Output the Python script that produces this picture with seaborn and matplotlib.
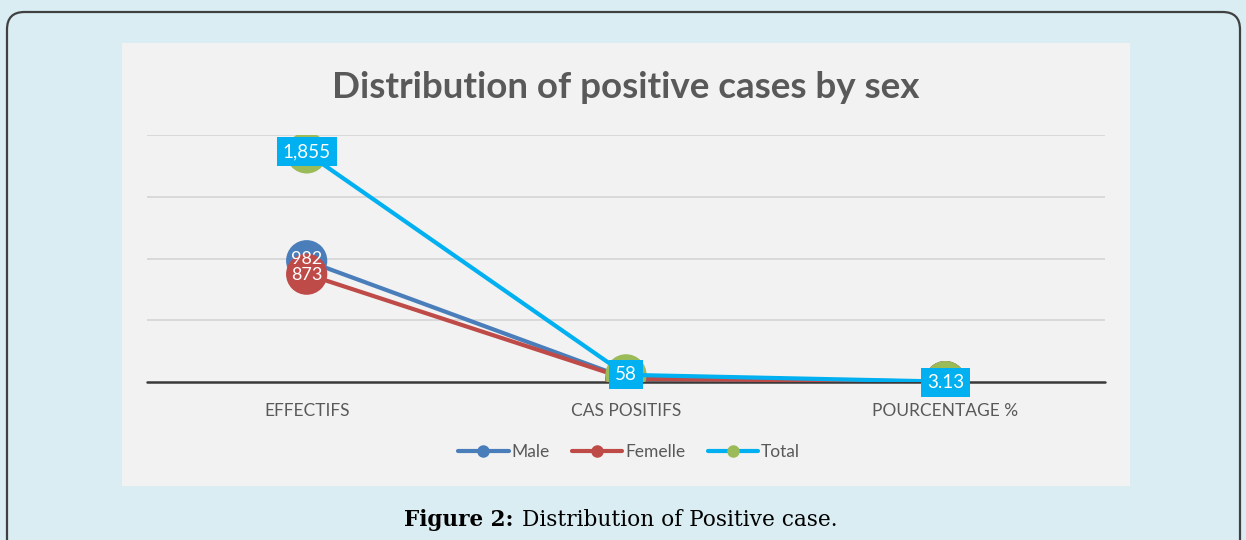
import pandas as pd
import matplotlib
matplotlib.use("Agg")
import matplotlib.pyplot as plt
import seaborn as sns
from matplotlib.lines import Line2D
from matplotlib.patches import FancyBboxPatch, Rectangle

# Datos
categorias = ['EFFECTIFS', 'CAS POSITIFS', 'POURCENTAGE %']
male = [982, 31, 3.16]
femelle = [873, 27, 3.09]
total = [1855, 58, 3.13]
series = ['Male', 'Femelle', 'Total']

df = pd.DataFrame({
    'cat': categorias * 3,
    'valor': male + femelle + total,
    'serie': [s for s in series for _ in categorias],
})

col_linea = {'Male': '#4a7ebb', 'Femelle': '#be4b48', 'Total': '#00b0f0'}
col_marca = {'Male': '#4a7ebb', 'Femelle': '#be4b48', 'Total': '#9bbb59'}

sns.set_theme(style="white")
plt.rcParams['font.family'] = ['Lato', 'DejaVu Sans']

fig = plt.figure(figsize=(12.46, 5.4), dpi=100)
fig.patch.set_facecolor('#d9edf3')

# Marco redondeado y panel gris
marco = FancyBboxPatch((7 / 1246, -0.1), 1233 / 1246, 1 - 12 / 540 + 0.1,
                       boxstyle='round,pad=0,rounding_size=0.014',
                       mutation_aspect=1246 / 540,
                       transform=fig.transFigure, facecolor='none',
                       edgecolor='#404040', linewidth=1.6, clip_on=False,
                       zorder=-2)
fig.patches.append(marco)
panel = Rectangle((122 / 1246, 1 - 486 / 540), 1008 / 1246, 443 / 540,
                  transform=fig.transFigure, facecolor='#f2f2f2',
                  edgecolor='none', zorder=-1)
fig.patches.append(panel)

ax = fig.add_axes([147 / 1246, 1 - 382 / 540, 958 / 1246, 247 / 540])
ax.set_facecolor('none')

sns.lineplot(data=df, x='cat', y='valor', hue='serie', palette=col_linea,
             linewidth=3, ax=ax, legend=False, sort=False)
sns.scatterplot(data=df, x='cat', y='valor', hue='serie', palette=col_marca,
                s=880, linewidth=0, ax=ax, legend=False, zorder=3)
# la linea Total por encima
for ln in ax.lines:
    ln.set_zorder(2)
ax.lines[2].set_zorder(4)

ax.set_xlim(-0.5, 2.5)
ax.set_ylim(0, 2000)
ax.set_yticks([500, 1000, 1500, 2000])
ax.yaxis.grid(True, color='#d4d4d4', linewidth=1.2)
ax.set_yticklabels([])
ax.tick_params(axis='y', length=0)
ax.tick_params(axis='x', length=0, labelsize=12.5, colors='#595959', pad=15)
ax.axhline(0, color='#3a3a3a', linewidth=1.8, zorder=1.5, clip_on=False)
for s in ax.spines.values():
    s.set_visible(False)
ax.set_xlabel('')
ax.set_ylabel('')

# Etiquetas de datos
ax.text(0, male[0] + 15, f'{male[0]:,}', ha='center', va='center', color='white',
        fontsize=13, zorder=6)
ax.text(0, femelle[0] - 10, f'{femelle[0]:,}', ha='center', va='center', color='white',
        fontsize=13, zorder=6)
caja = dict(boxstyle='square,pad=0.32', facecolor='#00b0f0', edgecolor='none')
ax.text(0, total[0] + 10, f'{total[0]:,}', ha='center', va='center', color='white',
        fontsize=13.5, bbox=caja, zorder=6)
ax.text(1, total[1] + 5, f'{total[1]}', ha='center', va='center', color='white',
        fontsize=13.5, bbox=caja, zorder=6)
ax.text(2, 0, f'{total[2]:.2f}', ha='center', va='center', color='white',
        fontsize=13.5, bbox=caja, zorder=6)

# Leyenda
handles = [Line2D([0], [0], color=col_linea[s], linewidth=3, marker='o',
                  markersize=8, markerfacecolor=col_marca[s],
                  markeredgecolor=col_marca[s]) for s in series]
fig.legend(handles, series, loc='center', bbox_to_anchor=(629 / 1246, 1 - 452 / 540),
           ncol=3, frameon=False, fontsize=12.5, labelcolor='#595959',
           handlelength=2.9, handletextpad=0.15, columnspacing=1.3)

# Titulo
fig.text(626 / 1246, 1 - 87 / 540, 'Distribution of positive cases by sex',
         ha='center', va='center', fontsize=26.5, fontweight='bold', color='#595959')

# Pie de figura
fig.text(513 / 1246, 1 - 520 / 540, 'Figure 2:', ha='right', va='center',
         fontsize=15.5, fontweight='bold', color='black', family='DejaVu Serif')
fig.text(522 / 1246, 1 - 520 / 540, 'Distribution of Positive case.', ha='left',
         va='center', fontsize=15.6, color='black', family='DejaVu Serif')

fig.savefig('out.png', dpi=100, facecolor=fig.get_facecolor())
